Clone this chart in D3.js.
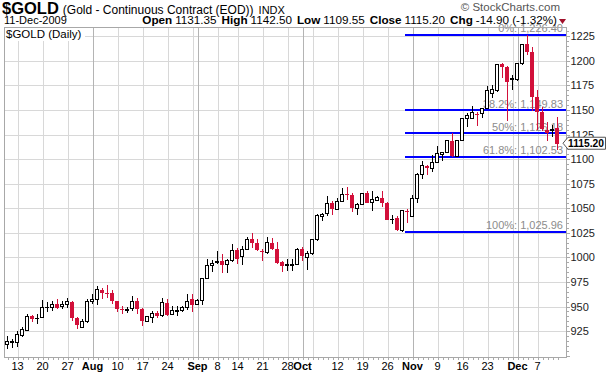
<!DOCTYPE html>
<html>
<head>
<meta charset="utf-8">
<script src="https://cdn.jsdelivr.net/npm/d3@7"></script>
<style>
  body { margin: 0; background: #fff; }
  svg { display: block; font-family: Arial, "Liberation Sans", sans-serif; }
</style>
</head>
<body>
<svg id="chart" width="607" height="372"></svg>
<script>
// daily candles, one array per month: [day, open, high, low, close]
const jul = [
  [9, 911, 920, 906.7, 914], [10, 913.5, 916.7, 908, 914.5],
  [13, 913, 925.3, 909, 922], [14, 920.7, 929, 918.7, 926.3], [15, 926, 942.7, 925, 940],
  [16, 940, 941.3, 934, 937.3], [17, 937.8, 942, 932.7, 938.3],
  [20, 938.7, 956.3, 938, 949], [21, 948.8, 954.7, 944.7, 949.3], [22, 949.3, 955.3, 945.7, 952],
  [23, 952.3, 958, 948, 949], [24, 950, 955.3, 947.3, 952],
  [27, 952, 959, 949, 954.7], [28, 954.7, 955.5, 935.7, 938], [29, 938, 939.7, 926.7, 931.3],
  [30, 929, 937.3, 928, 935], [31, 935, 957.3, 933.3, 955]
];
const aug = [
  [3, 954.7, 962.3, 952.3, 957], [4, 957, 971.3, 952, 967.3], [5, 967.3, 969, 958, 964],
  [6, 964, 972.3, 959, 963.3], [7, 964, 966.7, 953, 955.3],
  [10, 955.3, 955.5, 944, 947.3], [11, 947.7, 950.7, 942.3, 946.7], [12, 946.3, 950, 943, 947],
  [13, 948, 960.7, 945.7, 955.3], [14, 955.3, 959, 942.7, 948],
  [17, 948, 948.3, 930.7, 935], [18, 935, 940.3, 934, 940], [19, 939, 945.7, 933, 943],
  [20, 943, 945.7, 938.3, 940.7], [21, 940.7, 959, 939, 954],
  [24, 954, 957.3, 940.7, 941.3], [25, 942.3, 950.7, 941.3, 945.7], [26, 945.5, 950.7, 940.7, 945.8],
  [27, 945.7, 950.7, 944.7, 949], [28, 949, 962.3, 946.7, 955],
  [31, 957.3, 962.3, 944, 951.3]
];
const sep = [
  [1, 952, 958, 951.3, 956.3], [2, 956.7, 979.3, 951.3, 979], [3, 979, 998, 978.7, 992],
  [4, 992, 997.3, 985.7, 994],
  [8, 995, 1007, 993.5, 995.5], [9, 996.7, 1004, 984, 992.7], [10, 992.7, 998.3, 984, 997.3],
  [11, 997.3, 1013.3, 995.7, 1007.3],
  [14, 1007.3, 1010, 993.3, 998.3], [15, 1001, 1011.7, 992.7, 1008.3], [16, 1007.7, 1021, 1007.3, 1018.3],
  [17, 1018.3, 1025, 1010, 1015], [18, 1014.3, 1019, 1006.8, 1007.3],
  [21, 1006.3, 1008.3, 996.7, 1005.7], [22, 1005, 1021, 1003.3, 1015], [23, 1015, 1020, 1008, 1009],
  [24, 1009, 1016, 993, 994.3], [25, 995, 996.7, 985.7, 991.7],
  [28, 992, 998.3, 986.7, 992.5], [29, 992.3, 998.3, 986.7, 993], [30, 993, 1009.7, 992.3, 1007.7]
];
const oct = [
  [1, 1009, 1011, 996.7, 1001], [2, 1000, 1006.7, 987.7, 1004],
  [5, 1004, 1018.3, 1002.3, 1018.3], [6, 1018.3, 1044, 1016.7, 1042.3], [7, 1042, 1045, 1037.3, 1043.5],
  [8, 1044.3, 1062.3, 1042.3, 1055], [9, 1055.7, 1057.7, 1043.3, 1049.5],
  [12, 1049, 1060, 1048.3, 1057.3], [13, 1056.7, 1070.3, 1056, 1064.5], [14, 1064.5, 1072, 1058.5, 1063.5],
  [15, 1063.5, 1065.2, 1046, 1050], [16, 1050, 1055.7, 1043.2, 1053.4],
  [19, 1054.1, 1065.9, 1053.4, 1065.2], [20, 1065.2, 1068, 1055, 1055.7], [21, 1055.7, 1068, 1047.3, 1059.1],
  [22, 1058.4, 1062.5, 1057, 1060.8], [23, 1060.1, 1068, 1051.6, 1055],
  [26, 1055.7, 1056, 1038, 1038.1], [27, 1038.4, 1043.2, 1034, 1039], [28, 1039.8, 1042, 1027.3, 1028],
  [29, 1027.3, 1048.3, 1025.96, 1047.6], [30, 1047.6, 1049, 1035, 1046]
];
const nov = [
  [2, 1041.5, 1063.5, 1041.5, 1060.1], [3, 1060.1, 1085.6, 1055, 1084.5], [4, 1084.5, 1098.5, 1079.5, 1093.4],
  [5, 1093.4, 1094, 1084, 1090.7], [6, 1090.7, 1104.3, 1087.3, 1096.5],
  [9, 1096.5, 1113.4, 1095.8, 1105.3], [10, 1104.3, 1107.6, 1098.5, 1106.6], [11, 1107, 1119.5, 1106, 1118.5],
  [12, 1118.5, 1126.3, 1102.5, 1102.8], [13, 1102.5, 1120, 1102, 1119.5],
  [16, 1119.5, 1141, 1118, 1140.9], [17, 1140.9, 1146.6, 1132.5, 1144], [18, 1141.6, 1154.4, 1140.9, 1147.3],
  [19, 1146, 1148.3, 1134.1, 1145], [20, 1146, 1152, 1141.6, 1151.7],
  [23, 1151.7, 1174.8, 1151, 1169.4], [24, 1166.9, 1175.5, 1162, 1170.4], [25, 1169.4, 1197, 1168, 1196.5],
  [26, 1196.5, 1197.6, 1182.3, 1194.2], [27, 1194.2, 1195, 1138.8, 1178.9],
  [30, 1181.5, 1185.7, 1170.4, 1182]
];
const dec = [
  [1, 1180.6, 1198, 1180, 1197.6], [2, 1197.6, 1217.5, 1196, 1216.9], [3, 1216.9, 1226.4, 1206, 1209.4],
  [4, 1209.4, 1214.5, 1149, 1163.6],
  [7, 1163.6, 1170.4, 1129.7, 1148.3], [8, 1148.3, 1153.4, 1128.5, 1130.5], [9, 1129.5, 1138, 1118, 1126.5],
  [10, 1129, 1135, 1123, 1130.1], [11, 1131.35, 1142.5, 1109.55, 1115.2]
];

const tickDates = ["2009-07-13", "2009-07-20", "2009-07-27", "2009-08-03", "2009-08-10", "2009-08-17",
  "2009-08-24", "2009-09-01", "2009-09-08", "2009-09-14", "2009-09-21", "2009-09-28", "2009-10-01",
  "2009-10-12", "2009-10-19", "2009-10-26", "2009-11-02", "2009-11-09", "2009-11-16", "2009-11-23",
  "2009-12-01", "2009-12-07"];
const tickLabels = ["13", "20", "27", "Aug", "10", "17", "24", "Sep", "8", "14", "21", "28", "Oct",
  "12", "19", "26", "Nov", "9", "16", "23", "Dec", "7"];
const priceTicks = [925, 950, 975, 1000, 1025, 1050, 1075, 1100, 1125, 1150, 1175, 1200, 1225];

// fibonacci retracement from the Oct low to the Dec high
const fibPcts = [0, 38.2, 50, 61.8, 100];
const fibHigh = 1226.40, fibLow = 1025.96;
const fibFrom = "2009-10-29";

const quote = { date: "11-Dec-2009", open: "1131.35", high: "1142.50", low: "1109.55",
  close: "1115.20", chg: "-14.90 (-1.32%)" };

const months = [["07", jul], ["08", aug], ["09", sep], ["10", oct], ["11", nov], ["12", dec]];
const data = months.flatMap(([m, arr]) => arr.map(r => ({
  date: `2009-${m}-${String(r[0]).padStart(2, "0")}`,
  o: r[1], h: r[2], l: r[3], c: r[4]
})));

const L = 4, R = 566, T = 27, B = 357;
const RED = "#d2103a";

const svg = d3.select("#chart");

const x = d3.scalePoint().domain(data.map(d => d.date)).range([7.5, 557.5]);
const y = d3.scaleLinear().domain([898.7, 1234.5]).range([B, T]);

// grid
const grid = svg.append("g").attr("shape-rendering", "crispEdges");
grid.selectAll(".hg").data(priceTicks).enter().append("line")
  .attr("x1", L).attr("x2", R)
  .attr("y1", d => Math.round(y(d)) + 0.5).attr("y2", d => Math.round(y(d)) + 0.5)
  .attr("stroke", "#d8d8d8");

// first trading day of each week / month
const weekStarts = data.filter((d, i) => {
  if (i === 0) return false;
  const a = new Date(data[i - 1].date), b = new Date(d.date);
  return b.getUTCDay() <= a.getUTCDay() || (b - a) / 864e5 > 3;
});
const monthStarts = data.filter((d, i) => i > 0 && d.date.slice(5, 7) !== data[i - 1].date.slice(5, 7));

grid.selectAll(".wg").data(weekStarts).enter().append("line")
  .attr("x1", d => Math.round(x(d.date)) + 0.5).attr("x2", d => Math.round(x(d.date)) + 0.5)
  .attr("y1", T).attr("y2", B)
  .attr("stroke", "#d8d8d8");
grid.selectAll(".mg").data(monthStarts).enter().append("line")
  .attr("x1", d => Math.round(x(d.date)) + 0.5).attr("x2", d => Math.round(x(d.date)) + 0.5)
  .attr("y1", T).attr("y2", B)
  .attr("stroke", "#b4b4b4");

// fib labels (under the candles)
const fmt = d3.format(",.2f");
const fibs = fibPcts.map(p => ({ p, v: +(fibHigh - (fibHigh - fibLow) * p / 100).toFixed(2) }));
svg.append("g").selectAll("text").data(fibs).enter().append("text")
  .attr("x", 563).attr("y", d => y(d.v) - 2.5)
  .attr("text-anchor", "end")
  .attr("font-size", 11)
  .attr("fill", "#8c8c8c")
  .text(d => `${d.p}%: ${fmt(d.v)}`);

svg.append("g").attr("shape-rendering", "crispEdges")
  .selectAll("line").data(fibs).enter().append("line")
  .attr("x1", x(fibFrom) + 2).attr("x2", R)
  .attr("y1", d => y(d.v)).attr("y2", d => y(d.v))
  .attr("stroke", "#0000ff").attr("stroke-width", 2);

// candles: hollow when close > open, red when close < previous close
svg.append("g").attr("shape-rendering", "crispEdges")
  .selectAll("g").data(data).enter().append("g")
  .each(function (d, i) {
    const prev = i ? data[i - 1].c : d.o;
    const col = d.c >= prev ? "#000" : RED;
    const cx = x(d.date);
    const g = d3.select(this);
    g.append("line")
      .attr("x1", cx).attr("x2", cx)
      .attr("y1", y(d.h)).attr("y2", y(d.l))
      .attr("stroke", col);
    if (d.c < d.o) {
      g.append("rect")
        .attr("x", cx - 2.5).attr("width", 4)
        .attr("y", y(d.o)).attr("height", Math.max(1, y(d.c) - y(d.o)))
        .attr("fill", col);
    } else {
      g.append("rect")
        .attr("x", cx - 2).attr("width", 3)
        .attr("y", y(d.c)).attr("height", Math.max(0.5, y(d.o) - y(d.c)))
        .attr("fill", "#fff").attr("stroke", col);
    }
  });

// chart name label
svg.append("rect").attr("x", L + 1).attr("y", T + 1).attr("width", 80).attr("height", 13).attr("fill", "#fff");
svg.append("text").attr("x", 6).attr("y", 38).attr("font-size", 11.5).text("$GOLD (Daily)");

// frame
svg.append("rect").attr("x", L + 0.5).attr("y", T + 0.5).attr("width", R - L).attr("height", B - T)
  .attr("fill", "none").attr("stroke", "#a8a8a8").attr("shape-rendering", "crispEdges");

// right axis
const yAxis = svg.append("g").attr("transform", `translate(${R + 0.5},0)`);
yAxis.selectAll("text").data(priceTicks).enter().append("text")
  .attr("x", 4).attr("y", d => y(d) + 4)
  .attr("font-size", 11).attr("fill", "#222")
  .text(d => d);
yAxis.selectAll("line").data(d3.range(900, 1235, 5)).enter().append("line")
  .attr("x1", 0).attr("x2", d => d % 25 === 0 ? 3 : 2)
  .attr("y1", d => Math.round(y(d)) + 0.5).attr("y2", d => Math.round(y(d)) + 0.5)
  .attr("stroke", "#aaa").attr("shape-rendering", "crispEdges");

// bottom axis
const xAxis = svg.append("g");
xAxis.selectAll("line").data(data).enter().append("line")
  .attr("x1", d => Math.round(x(d.date)) + 0.5).attr("x2", d => Math.round(x(d.date)) + 0.5)
  .attr("y1", B + 0.5).attr("y2", B + 3)
  .attr("stroke", "#aaa").attr("shape-rendering", "crispEdges");
xAxis.selectAll("text").data(tickDates).enter().append("text")
  .attr("x", d => x(d)).attr("y", 370)
  .attr("text-anchor", "middle")
  .attr("font-size", 11)
  .attr("font-weight", (d, i) => isNaN(+tickLabels[i]) ? "bold" : "normal")
  .text((d, i) => tickLabels[i]);

// last close tag
const lc = data[data.length - 1].c;
const ly = y(lc) - 1;
svg.append("path")
  .attr("d", `M563,${ly} L568,${ly - 6} L605.5,${ly - 6} L605.5,${ly + 6} L568,${ly + 6} Z`)
  .attr("fill", "#fff").attr("stroke", "#555");
svg.append("text").attr("x", 568).attr("y", ly + 4).attr("font-size", 11).attr("font-weight", "bold")
  .attr("textLength", 36).attr("lengthAdjust", "spacingAndGlyphs")
  .text(d3.format(".2f")(lc));

// header
const h1 = svg.append("text").attr("x", 2).attr("y", 14);
h1.append("tspan").attr("font-size", 16.5).attr("font-weight", "bold").text("$GOLD");
h1.append("tspan").attr("font-size", 12).attr("dx", 4).text("(Gold - Continuous Contract (EOD))");
h1.append("tspan").attr("font-size", 11).attr("dx", 5).text("INDX");

svg.append("text").attr("x", 560).attr("y", 11).attr("text-anchor", "end")
  .attr("font-size", 11.5).attr("fill", "#555").text("\u00a9 StockCharts.com");

svg.append("text").attr("x", 4).attr("y", 24).attr("font-size", 11).text(quote.date);

const q = svg.append("text").attr("x", 557).attr("y", 24).attr("text-anchor", "end").attr("font-size", 11.7);
[["Open", quote.open], ["High", quote.high], ["Low", quote.low], ["Close", quote.close], ["Chg", quote.chg]]
  .forEach(([k, v], i) => {
    q.append("tspan").attr("font-weight", "bold").attr("dx", i ? 5 : 0).text(k);
    q.append("tspan").attr("dx", 3).text(v);
  });
svg.append("path").attr("d", "M559,19 L566,19 L562.5,24 Z").attr("fill", "#a0102a");
</script>
</body>
</html>
